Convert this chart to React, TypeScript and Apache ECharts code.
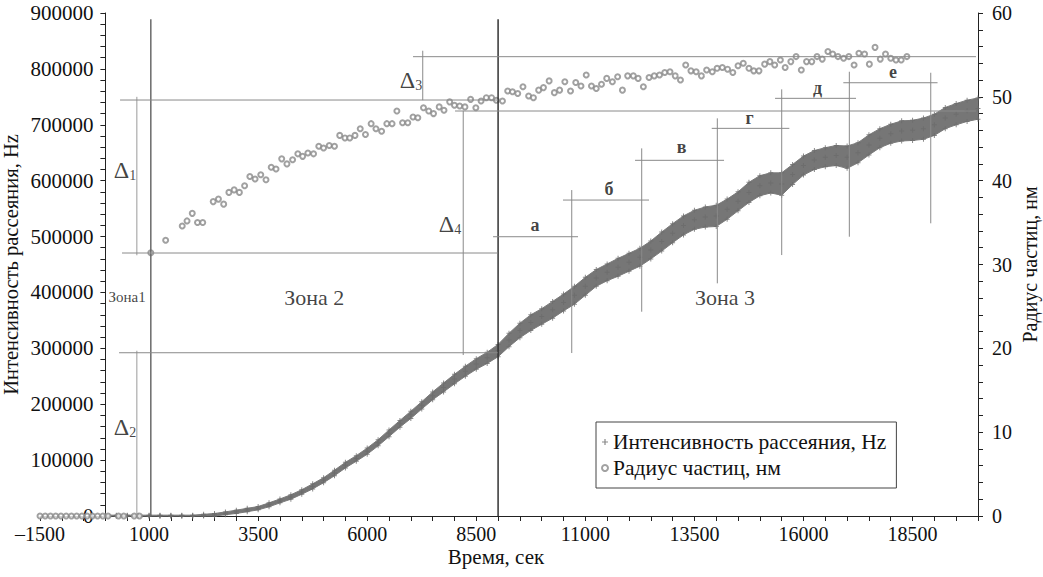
import React, { useEffect, useRef } from "react";
import * as echarts from "echarts";

const FONT = "'Liberation Serif', 'Times New Roman', serif";
const INT_NAME = "Интенсивность рассеяния, Hz";
const RAD_NAME = "Радиус частиц, нм";

// Intensity (left axis): time, centre of the point cloud, half-width of the cloud
const intensityTime = [
  0, 250, 500, 750, 1000, 1250, 1500, 1750, 2000,
  2250, 2500, 2750, 3000, 3250, 3500, 3750, 4000,
  4250, 4500, 4750, 5000, 5250, 5500, 5750, 6000,
  6250, 6500, 6750, 7000, 7250, 7500, 7750, 8000,
  8250, 8500, 8750, 9000, 9250, 9500, 9750, 10000,
  10250, 10500, 10750, 11000, 11250, 11500, 11750, 12000,
  12250, 12500, 12750, 13000, 13250, 13500, 13750, 14000,
  14250, 14500, 14750, 15000, 15250, 15500, 15750, 16000,
  16250, 16500, 16750, 17000, 17250, 17500, 17750, 18000,
  18250, 18500, 18750, 19000, 19250, 19500, 19750, 20000,
];
const intensityMid = [
  0, 0, 0, 0, 0, 0, 0, 0, 0,
  1000, 2000, 4800, 7500, 10700, 14000, 20000, 27000,
  34000, 43000, 53000, 64000, 77000, 91000, 103000, 116000,
  131000, 148000, 165000, 181000, 198000, 215000, 230000, 245000,
  259000, 272000, 283000, 296000, 315000, 332000, 346000, 357000,
  369000, 382000, 395000, 411000, 426000, 436000, 445000, 454000,
  463000, 476000, 491000, 506000, 520000, 530000, 535000, 537000,
  549000, 563000, 579000, 591000, 596000, 594000, 611000, 627000,
  637000, 642000, 645000, 642000, 650000, 664000, 676000, 684000,
  689000, 690000, 693000, 700000, 712000, 719000, 725000, 729000,
];
const intensitySpread = [
  1500, 1500, 1500, 1500, 1500, 1500, 1500, 1500, 1500,
  2000, 2500, 2500, 3000, 3000, 3000, 3500, 3500,
  4000, 4000, 4500, 4500, 5000, 5000, 5000, 5500,
  5500, 6000, 6000, 6500, 6500, 7000, 8000, 8500,
  9000, 9500, 10000, 11000, 12000, 13000, 14000, 14000,
  15000, 15000, 16000, 16000, 15000, 15000, 16000, 16000,
  16000, 16000, 17000, 17000, 17000, 17000, 18000, 19000,
  18000, 17000, 18000, 18000, 18000, 20000, 18000, 17000,
  17000, 17000, 18000, 20000, 18000, 18000, 17000, 17000,
  18000, 18000, 19000, 19000, 19000, 19000, 19000, 19000,
];

// Particle radius (right axis)
const radiusTime = [
  -1500, -1380, -1260, -1140, -1020, -900, -780, -660, -540, -420, -300, -180, -60, 60, 300, 420, 660, 780,
  1040, 1380, 1760, 1870, 1990, 2110, 2230, 2470, 2590, 2710, 2830, 2950, 3070, 3190, 3310, 3430,
  3560, 3680, 3800, 3910, 4040, 4160, 4290, 4410, 4520, 4640, 4770, 4890, 5000, 5130, 5250, 5370,
  5490, 5600, 5720, 5840, 5960, 6090, 6200, 6330, 6450, 6570, 6680, 6810, 6930, 7050, 7160, 7290,
  7410, 7520, 7650, 7760, 7890, 8000, 8120, 8240, 8370, 8490, 8610, 8730, 8850, 8960, 9100, 9220,
  9330, 9450, 9570, 9700, 9810, 9930, 10040, 10170, 10290, 10410, 10530, 10660, 10780, 10900, 11020, 11140,
  11250, 11370, 11490, 11620, 11740, 11850, 11970, 12100, 12210, 12330, 12460, 12580, 12700, 12820, 12940, 13060,
  13180, 13300, 13420, 13540, 13660, 13780, 13910, 14020, 14140, 14260, 14380, 14500, 14620, 14750, 14860, 14980,
  15110, 15230, 15340, 15470, 15580, 15710, 15830, 15950, 16070, 16190, 16310, 16430, 16560, 16670, 16790, 16920,
  17040, 17160, 17270, 17400, 17510, 17640, 17760, 17880, 18000, 18120, 18240, 18370,
];
const radiusValue = [
  0, 0, 0, 0, 0, 0, 0, 0, 0, 0, 0, 0, 0, 0, 0, 0, 0, 0,
  31.4, 32.9, 34.6, 35.2, 36.1, 35.0, 35.0, 37.5, 37.8, 37.2, 38.6, 38.9, 38.6, 39.4, 40.5, 40.2,
  40.7, 40.1, 41.6, 41.4, 42.6, 42.0, 42.5, 43.2, 42.9, 43.3, 43.2, 44.1, 43.9, 44.2, 44.1, 45.4,
  45.1, 45.1, 45.4, 46.2, 45.5, 46.8, 46.2, 45.9, 46.8, 46.8, 48.3, 46.9, 46.9, 47.6, 47.5, 48.7,
  48.3, 48.0, 48.8, 48.4, 49.4, 49.0, 48.9, 48.8, 49.7, 48.7, 49.5, 49.9, 49.9, 49.6, 49.5, 50.7,
  50.6, 50.4, 51.2, 50.1, 49.9, 50.8, 51.1, 51.9, 50.5, 50.8, 51.8, 50.7, 51.7, 51.3, 52.6, 51.3,
  51.0, 51.5, 52.2, 51.8, 52.4, 50.8, 52.5, 52.5, 52.2, 51.2, 52.3, 52.5, 52.6, 52.9, 53.0, 52.5,
  52.0, 53.8, 53.1, 53.0, 52.5, 53.2, 53.0, 53.4, 53.5, 53.3, 52.9, 53.7, 54.0, 53.4, 53.1, 53.1,
  53.9, 54.2, 53.8, 54.4, 53.5, 54.2, 54.8, 53.2, 54.2, 54.2, 54.8, 54.5, 55.4, 55.1, 54.8, 54.6,
  54.8, 53.8, 55.2, 55.1, 53.9, 55.9, 54.5, 55.1, 54.6, 54.4, 54.4, 54.8,
];

// Axis settings
const xMin = -1500;
const xMax = 20000;
const xStep = 500;
const xLabelStep = 2500;
const intensityMax = 900000;
const radiusMax = 60;

// Annotation lines in data units: [axisIndex, colour, width, [[t, v], [t, v]]]
const annotationLines: [number, string, number, number[][]][] = [
  [0, "#6a6a6a", 1.5, [[1040, 0], [1040, 889000]]],
  [0, "#333333", 1.5, [[9000, 0], [9000, 889000]]],
  [1, "#9a9a9a", 1, [[720, 31.1], [720, 50.0]]],
  [0, "#9a9a9a", 1, [[720, 0], [720, 295700]]],
  [1, "#8a8a8a", 1, [[7273, 49.6], [7273, 55.5]]],
  [0, "#8a8a8a", 1, [[8201, 288000], [8201, 725000]]],
  [1, "#8a8a8a", 1, [[335, 49.62], [8990, 49.62]]],
  [1, "#8a8a8a", 1, [[380, 31.37], [8990, 31.37]]],
  [0, "#8a8a8a", 1, [[312, 292100], [8990, 292100]]],
  [1, "#8a8a8a", 1, [[8013, 48.31], [19954, 48.31]]],
  [1, "#8a8a8a", 1, [[7050, 54.79], [19954, 54.79]]],
  [0, "#8a8a8a", 1, [[8884, 499700], [10832, 499700]]],
  [0, "#8a8a8a", 1, [[10688, 291600], [10688, 583200]]],
  [0, "#8a8a8a", 1, [[10488, 565300], [12459, 565300]]],
  [0, "#8a8a8a", 1, [[12292, 365500], [12292, 657800]]],
  [0, "#8a8a8a", 1, [[12139, 636400], [14179, 636400]]],
  [0, "#8a8a8a", 1, [[14025, 416300], [14025, 711500]]],
  [0, "#8a8a8a", 1, [[13897, 693600], [15676, 693600]]],
  [0, "#8a8a8a", 1, [[15501, 466900], [15501, 763400]]],
  [0, "#8a8a8a", 1, [[15348, 747300], [17204, 747300]]],
  [0, "#8a8a8a", 1, [[17051, 499700], [17051, 794900]]],
  [0, "#8a8a8a", 1, [[16913, 775200], [19073, 775200]]],
  [0, "#8a8a8a", 1, [[18917, 523700], [18917, 793100]]],
];

// Annotation texts anchored in data units (left axis)
const annotationTexts: [string, number, number, number, string][] = [
  ["{d|Δ}{s|1}", 449, 619000, 24, "normal"],
  ["{d|Δ}{s|2}", 449, 159200, 24, "normal"],
  ["{d|Δ}{s|3}", 7005, 780000, 24, "normal"],
  ["{d|Δ}{s|4}", 7899, 522400, 24, "normal"],
  ["Зона1", 497, 391800, 15, "normal"],
  ["Зона 2", 4786, 391800, 22, "normal"],
  ["Зона 3", 14202, 391800, 22, "normal"],
  ["а", 9847, 520600, 18, "bold"],
  ["б", 11543, 585000, 18, "bold"],
  ["в", 13205, 660100, 18, "bold"],
  ["г", 14763, 712000, 18, "bold"],
  ["д", 16322, 765700, 18, "bold"],
  ["е", 18053, 794300, 18, "bold"],
];

const PLUS = "path://M4 0h2v4h4v2h-4v4h-2v-4h-4v-2h4z";

function fmtX(v: number) {
  const r = Math.round(v);
  if ((r - xMin) % xLabelStep !== 0) return "";
  return r < 0 ? "–" + Math.abs(r) : String(r);
}

function fmtPlain(v: number) {
  return String(Math.round(v));
}

function buildOption() {
  const plusPts: number[][] = [];
  intensityTime.forEach((t, i) => {
    plusPts.push([t, intensityMid[i]]);
    plusPts.push([t, Math.max(0, intensityMid[i] - intensitySpread[i])]);
    plusPts.push([t, intensityMid[i] + intensitySpread[i]]);
  });
  const radiusPts = radiusTime.map((t, i) => [t, radiusValue[i]]);

  const axisColor = "#222";
  const series: any[] = [
    {
      name: "band", type: "custom", yAxisIndex: 0, data: [[0, 0]], silent: true, z: 1,
      renderItem: (_params: any, api: any) => {
        const top = intensityTime.map((t, i) => api.coord([t, intensityMid[i] + intensitySpread[i]]));
        const bottom = intensityTime
          .map((t, i) => api.coord([t, Math.max(0, intensityMid[i] - intensitySpread[i])]))
          .reverse();
        return {
          type: "polygon",
          shape: { points: top.concat(bottom) },
          style: { fill: "#767676", stroke: "#7a7a7a", lineWidth: 1 },
        };
      },
    },
    {
      name: INT_NAME, type: "scatter", data: plusPts, yAxisIndex: 0,
      symbol: PLUS, symbolSize: 5, itemStyle: { color: "#6c6c6c" }, z: 2, silent: true,
    },
    {
      name: RAD_NAME, type: "scatter", data: radiusPts, yAxisIndex: 1,
      symbol: "emptyCircle", symbolSize: 5,
      itemStyle: { color: "#8a8a8a", borderColor: "#8a8a8a", borderWidth: 1 }, z: 3, silent: true,
    },
  ];
  annotationLines.forEach(([axis, color, w, pts], i) => {
    series.push({
      name: "ann" + i, type: "line", yAxisIndex: axis, data: pts, symbol: "none",
      lineStyle: { color, width: w }, silent: true, z: 4,
    });
  });
  series.push({
    name: "texts", type: "scatter", yAxisIndex: 0, symbolSize: 1, silent: true, z: 5,
    itemStyle: { color: "transparent" },
    data: annotationTexts.map(([text, t, v, size, weight]) => ({
      value: [t, v],
      label: {
        show: true, position: "inside", formatter: text, color: "#111",
        fontFamily: FONT, fontSize: size, fontWeight: weight,
        rich: {
          d: { fontFamily: FONT, fontSize: 24, color: "#111", verticalAlign: "bottom", lineHeight: 24 },
          s: { fontFamily: FONT, fontSize: 14, color: "#111", verticalAlign: "bottom", lineHeight: 10 },
        },
      },
    })),
  });

  return {
    animation: false,
    backgroundColor: "#fff",
    grid: { left: 40, right: 65, top: 13, bottom: 61, containLabel: false, outerBoundsMode: "none" },
    legend: {
      data: [{ name: INT_NAME }, { name: RAD_NAME }],
      orient: "vertical", left: 596, top: 422,
      borderColor: "#444", borderWidth: 1, padding: [9, 10, 9, 5],
      itemGap: 4, itemWidth: 6, itemHeight: 6, selectedMode: false,
      textStyle: { fontFamily: FONT, fontSize: 21.5, color: "#111" },
    },
    xAxis: {
      type: "value", min: xMin, max: xMax, interval: xStep,
      name: "Время, сек", nameLocation: "middle", nameGap: 30, nameMoveOverlap: false,
      nameTextStyle: { fontFamily: FONT, fontSize: 21, color: "#111", padding: [0, 26, 0, 0] },
      axisLine: { show: true, onZero: false, lineStyle: { color: axisColor, width: 1 } },
      axisTick: { show: true, length: 5, lineStyle: { color: axisColor } },
      axisLabel: { formatter: fmtX, fontFamily: FONT, fontSize: 20, color: "#111", margin: 8 },
      splitLine: { show: false },
    },
    yAxis: [
      {
        type: "value", min: 0, max: intensityMax, interval: 100000, position: "left",
        offset: -65.4,
        name: INT_NAME, nameLocation: "middle", nameGap: 84, nameMoveOverlap: false,
        nameTextStyle: { fontFamily: FONT, fontSize: 20.5, color: "#111" },
        axisLine: { show: true, onZero: false, lineStyle: { color: axisColor, width: 1 } },
        axisTick: { show: true, length: 5, lineStyle: { color: axisColor } },
        minorTick: { show: true, splitNumber: 5, length: 5, lineStyle: { color: axisColor } },
        axisLabel: { formatter: fmtPlain, fontFamily: FONT, fontSize: 21, color: "#111", margin: 12 },
        splitLine: { show: false }, minorSplitLine: { show: false },
      },
      {
        type: "value", min: 0, max: radiusMax, interval: 10, position: "right",
        name: RAD_NAME, nameLocation: "middle", nameGap: 42, nameMoveOverlap: false,
        nameTextStyle: { fontFamily: FONT, fontSize: 20, color: "#111" },
        axisLine: { show: true, onZero: false, lineStyle: { color: axisColor, width: 1 } },
        axisTick: { show: true, length: 5, lineStyle: { color: axisColor } },
        minorTick: { show: true, splitNumber: 5, length: 5, lineStyle: { color: axisColor } },
        axisLabel: { formatter: fmtPlain, fontFamily: FONT, fontSize: 20, color: "#111", margin: 14 },
        splitLine: { show: false }, minorSplitLine: { show: false },
      },
    ],
    series,
  };
}

export default function App() {
  const ref = useRef<HTMLDivElement>(null);
  useEffect(() => {
    const chart = echarts.init(ref.current as HTMLDivElement, null, { renderer: "svg" });
    chart.setOption(buildOption() as any);
    return () => chart.dispose();
  }, []);
  return (
    <div
      ref={ref}
      style={{ position: "fixed", left: 0, top: 0, width: 1043, height: 577, background: "#fff" }}
    />
  );
}
